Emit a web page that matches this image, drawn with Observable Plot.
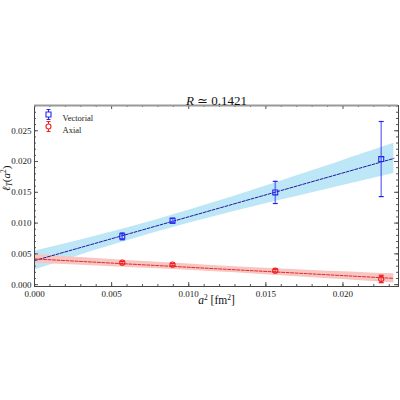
<!DOCTYPE html>
<html>
<head>
<meta charset="utf-8">
<script src="https://cdn.jsdelivr.net/npm/d3@7"></script>
<script src="https://cdn.jsdelivr.net/npm/@observablehq/plot@0.6"></script>
<style>
  html, body { margin: 0; padding: 0; background: white; }
</style>
</head>
<body>
<div id="chart"></div>
<script>
// Lattice spacings squared (fm^2)
const aSq = [0.00569, 0.00895, 0.01561, 0.02248];

// Vectorial channel: values and errors
const vecVal = [0.00784, 0.01039, 0.01498, 0.0204];
const vecErr = [0.00055, 0.0004, 0.0018, 0.0061];

// Axial channel: values and errors
const axVal = [0.00357, 0.00325, 0.00227, 0.00092];
const axErr = [0.0002, 0.00018, 0.00022, 0.0006];

// Linear fits (end points)
const fitX = [0, 0.0233];
const vecFit = [0.0039, 0.0205];
const axFit = [0.00418, 0.00102];

// Confidence band of the vectorial fit
const vecBandX = [0, 0.002, 0.004, 0.006, 0.008, 0.010, 0.012, 0.014, 0.016, 0.018, 0.020, 0.022, 0.0233];
const vecBandLo = [0.00239, 0.00401, 0.00561, 0.00714, 0.0086, 0.00997, 0.01128, 0.01253, 0.01375, 0.01494, 0.01612, 0.01728, 0.01804];
const vecBandHi = [0.00541, 0.00663, 0.00789, 0.0092, 0.0106, 0.01207, 0.01362, 0.01521, 0.01685, 0.0185, 0.02018, 0.02186, 0.02296];

// Confidence band of the axial fit
const axBandX = [0, 0.004, 0.008, 0.012, 0.016, 0.020, 0.0233];
const axBandLo = [0.00348, 0.00305, 0.00258, 0.00205, 0.00146, 0.00083, 0.00028];
const axBandHi = [0.00488, 0.00423, 0.00362, 0.00305, 0.00256, 0.00211, 0.00176];

// Axis ticks
const xTicks = [0, 0.005, 0.010, 0.015, 0.020];
const yTicks = [0, 0.005, 0.010, 0.015, 0.020, 0.025];
const xMinor = d3.range(0, 0.0235, 0.001);
const yMinor = d3.range(0, 0.0291, 0.001);

const xDomain = [0, 0.0236];
const yDomain = [-0.0003, 0.0291];

const series = [
  {name: "Vectorial", val: vecVal, err: vecErr, color: "#2525f0"},
  {name: "Axial", val: axVal, err: axErr, color: "#ee2020"}
];
const points = series.flatMap(s => aSq.map((x, i) => ({
  series: s.name, x, y: s.val[i], lo: s.val[i] - s.err[i], hi: s.val[i] + s.err[i], color: s.color
})));
const vecBand = vecBandX.map((x, i) => ({x, lo: vecBandLo[i], hi: vecBandHi[i]}));
const axBand = axBandX.map((x, i) => ({x, lo: axBandLo[i], hi: axBandHi[i]}));
const vecLine = fitX.map((x, i) => ({x, y: vecFit[i]}));
const axLine = fitX.map((x, i) => ({x, y: axFit[i]}));

// Custom symbols: error-bar caps and legend markers
const cap = {draw(ctx) { ctx.moveTo(-2.5, 0); ctx.lineTo(2.5, 0); }};
const legendSquare = {draw(ctx) {
  const s = 2.5;
  ctx.moveTo(-s, -s); ctx.lineTo(s, -s); ctx.lineTo(s, s); ctx.lineTo(-s, s); ctx.closePath();
  ctx.moveTo(0, -5); ctx.lineTo(0, -s); ctx.moveTo(0, s); ctx.lineTo(0, 5);
  ctx.moveTo(-2, -5); ctx.lineTo(2, -5); ctx.moveTo(-2, 5); ctx.lineTo(2, 5);
}};
const legendCircle = {draw(ctx) {
  const s = 2.5;
  ctx.moveTo(s, 0); ctx.arc(0, 0, s, 0, 2 * Math.PI);
  ctx.moveTo(0, -5); ctx.lineTo(0, -s); ctx.moveTo(0, s); ctx.lineTo(0, 5);
  ctx.moveTo(-2, -5); ctx.lineTo(2, -5); ctx.moveTo(-2, 5); ctx.lineTo(2, 5);
}};

const serif = "'Liberation Serif', 'DejaVu Serif', serif";
const tickColor = "#555";
const majX = 0.00026, minX = 0.00013;   // tick lengths in x units
const majY = 0.00065, minY = 0.00032;   // tick lengths in y units

const chart = Plot.plot({
  width: 400,
  height: 400,
  marginLeft: 34,
  marginRight: 2,
  marginTop: 105,
  marginBottom: 114,
  style: {fontFamily: serif, fontSize: "9px", background: "white", color: "#222"},
  x: {domain: xDomain, label: null},
  y: {domain: yDomain, label: null},
  marks: [
    // confidence bands
    Plot.areaY(vecBand, {x: "x", y1: "lo", y2: "hi", fill: "#bde6f7", curve: "natural"}),
    Plot.areaY(axBand, {x: "x", y1: "lo", y2: "hi", fill: "#f7c6c2", curve: "natural"}),
    // fit lines
    Plot.line(vecLine, {x: "x", y: "y", stroke: "#1c1ca0", strokeWidth: 1, strokeDasharray: "3,1.5"}),
    Plot.line(axLine, {x: "x", y: "y", stroke: "#e52a2a", strokeWidth: 1, strokeDasharray: "3,1.5"}),
    // error bars
    Plot.ruleX(points, {x: "x", y1: "lo", y2: "hi", stroke: "color", strokeWidth: 1.6, strokeOpacity: 0.55}),
    Plot.dot(points, {x: "x", y: "lo", symbol: cap, stroke: "color", strokeWidth: 1.2}),
    Plot.dot(points, {x: "x", y: "hi", symbol: cap, stroke: "color", strokeWidth: 1.2}),
    // data points
    Plot.dot(points.filter(d => d.series === "Vectorial"), {x: "x", y: "y", symbol: "square", r: 2.8, stroke: "color", fill: "none", strokeWidth: 1.1}),
    Plot.dot(points.filter(d => d.series === "Axial"), {x: "x", y: "y", symbol: "circle", r: 2.6, stroke: "color", fill: "none", strokeWidth: 1.1}),
    // inward ticks on all four sides
    Plot.ruleX(xTicks, {x: d => d, y1: yDomain[0], y2: yDomain[0] + majY, stroke: tickColor}),
    Plot.ruleX(xMinor, {x: d => d, y1: yDomain[0], y2: yDomain[0] + minY, stroke: tickColor}),
    Plot.ruleX(xTicks, {x: d => d, y1: yDomain[1], y2: yDomain[1] - majY, stroke: tickColor}),
    Plot.ruleX(xMinor, {x: d => d, y1: yDomain[1], y2: yDomain[1] - minY, stroke: tickColor}),
    Plot.ruleY(yTicks, {y: d => d, x1: xDomain[0], x2: xDomain[0] + majX, stroke: tickColor}),
    Plot.ruleY(yMinor, {y: d => d, x1: xDomain[0], x2: xDomain[0] + minX, stroke: tickColor}),
    Plot.ruleY(yTicks, {y: d => d, x1: xDomain[1], x2: xDomain[1] - majX, stroke: tickColor}),
    Plot.ruleY(yMinor, {y: d => d, x1: xDomain[1], x2: xDomain[1] - minX, stroke: tickColor}),
    // tick labels
    Plot.axisX({ticks: xTicks, tickSize: 0, tickPadding: 4, tickFormat: d3.format(".3f"), label: null, fontFamily: serif, fontSize: 9}),
    Plot.axisY({ticks: yTicks, tickSize: 0, tickPadding: 3, tickFormat: d3.format(".3f"), label: null, fontFamily: serif, fontSize: 9}),
    // frame
    Plot.frame({stroke: "#444", strokeWidth: 1}),
    Plot.ruleY([yDomain[1]], {stroke: "#999", strokeWidth: 2}),
    // legend
    Plot.dot(["Vectorial"], {frameAnchor: "top-left", dx: 14, dy: 9, symbol: legendSquare, stroke: "#2525f0", fill: "none", strokeWidth: 1.1}),
    Plot.dot(["Axial"], {frameAnchor: "top-left", dx: 14, dy: 21, symbol: legendCircle, stroke: "#ee2020", fill: "none", strokeWidth: 1.1}),
    Plot.text(["Vectorial"], {frameAnchor: "top-left", dx: 28, dy: 9, text: d => d, textAnchor: "start", fontFamily: serif, fontSize: 8.5, fill: "#222"}),
    Plot.text(["Axial"], {frameAnchor: "top-left", dx: 28, dy: 21, text: d => d, textAnchor: "start", fontFamily: serif, fontSize: 8.5, fill: "#222"}),
    // title and axis labels
    Plot.text(["R ≃ 0.1421"], {frameAnchor: "top", dy: -10, text: d => d, fontFamily: serif, fontSize: 13, fill: "#111"}),
    Plot.text(["a2 [fm2]"], {frameAnchor: "bottom", dy: 17, text: d => d, fontFamily: serif, fontSize: 11.5, fill: "#111"}),
    Plot.text(["lT(a2)"], {frameAnchor: "left", dx: -28, dy: -5, rotate: -90, text: d => d, fontFamily: serif, fontSize: 11, fill: "#111"})
  ]
});

// Rich text (italics, sub- and superscripts) for the title and axis labels
const setRich = (plain, html) => {
  for (const t of chart.querySelectorAll("text")) {
    if (t.textContent === plain) { t.innerHTML = html; return; }
  }
};
setRich("R ≃ 0.1421", `<tspan font-style="italic">R</tspan> ≃ 0.1421`);
setRich("a2 [fm2]", `<tspan font-style="italic">a</tspan><tspan font-size="7.5" dy="-4">2</tspan><tspan dy="4"> [fm</tspan><tspan font-size="7.5" dy="-4">2</tspan><tspan dy="4">]</tspan>`);
setRich("lT(a2)", `<tspan font-style="italic">ℓ</tspan><tspan font-style="italic" font-size="7.5" dy="2">T</tspan><tspan dy="-2">(</tspan><tspan font-style="italic">a</tspan><tspan font-size="7.5" dy="-4">2</tspan><tspan dy="4">)</tspan>`);

document.getElementById("chart").appendChild(chart);
</script>
</body>
</html>
